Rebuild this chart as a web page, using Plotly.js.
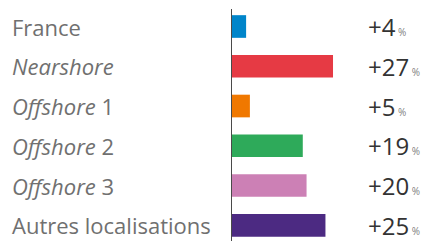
<!DOCTYPE html>
<html>
<head>
<meta charset="utf-8">
<script src="https://cdn.plot.ly/plotly-3.0.1.min.js"></script>
<style>html,body{margin:0;padding:0;background:#fff;}#chart{width:422px;height:241px;}</style>
</head>
<body>
<div id="chart"></div>
<script>
const categories = ['France', 'Nearshore', 'Offshore 1', 'Offshore 2', 'Offshore 3', 'Autres localisations'];
const values = [4, 27, 5, 19, 20, 25];
const valueLabels = ['+4', '+27', '+5', '+19', '+20', '+25'];
const barColors = ['#0085CA', '#E63A44', '#F07800', '#2EAA5A', '#CC80B5', '#4C2A82'];

const W = 422, H = 241, L = 231;
const labelHtml = categories.map(c => c.replace(/^(Nearshore|Offshore)/, '<i>$1</i>'));

const annotations = [];
categories.forEach((c, i) => {
  annotations.push({
    xref: 'paper', yref: 'y', x: (10 - L) / (W - L), y: c,
    xanchor: 'left', yanchor: 'middle', showarrow: false,
    text: labelHtml[i],
    font: {family: 'Open Sans, sans-serif', size: 22, color: '#707070'}
  });
  annotations.push({
    xref: 'paper', yref: 'y', x: (366 - L) / (W - L), y: c,
    xanchor: 'left', yanchor: 'middle', showarrow: false,
    text: valueLabels[i] + '<span style="font-size:10px;color:#808080"> %</span>',
    font: {family: 'Open Sans, sans-serif', size: 24, color: '#333333'}
  });
});

const trace = {
  type: 'bar', orientation: 'h',
  x: values, y: categories,
  width: 0.57,
  marker: {color: barColors, line: {width: 0}},
  hoverinfo: 'none'
};

const layout = {
  width: W, height: H,
  margin: {l: L, r: 0, t: 0, b: 0, pad: 0},
  paper_bgcolor: '#ffffff', plot_bgcolor: '#ffffff',
  showlegend: false,
  xaxis: {range: [0, (W - L) / 3.778], visible: false, fixedrange: true},
  yaxis: {type: 'category', range: [5.395, -0.6665], visible: false, fixedrange: true},
  shapes: [{
    type: 'line', xref: 'x', yref: 'paper', x0: 0, x1: 0, y0: 1 - 9 / H, y1: 0,
    line: {color: '#4a4a4a', width: 2}
  }],
  annotations: annotations
};

Plotly.newPlot('chart', [trace], layout, {staticPlot: true, displayModeBar: false});
</script>
</body>
</html>
